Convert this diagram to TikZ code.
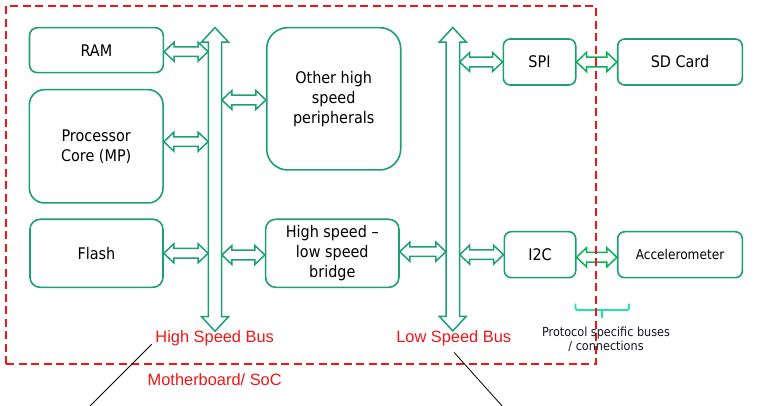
\documentclass[tikz,border=0pt]{standalone}
\usepackage{fontspec}
\setmainfont{DejaVu Sans}[FakeStretch=0.9]
\newfontfamily\redfont{Liberation Sans}
\usetikzlibrary{calc}
\definecolor{boxgreen}{RGB}{28,158,118}
\definecolor{brightgreen}{RGB}{10,176,84}
\definecolor{mint}{RGB}{30,228,165}
\definecolor{socred}{RGB}{240,22,22}
\definecolor{navytext}{RGB}{20,20,35}
\tikzset{
  box/.style={draw=boxgreen, line width=1.6pt, inner sep=0pt, align=center,
    font=\fontsize{16}{20}\selectfont, text=black},
  harr/.style={draw=boxgreen, line width=1.5pt, line join=miter},
  redlabel/.style={text=socred, font=\redfont\fontsize{16.4}{20}\selectfont, inner sep=0pt},
  pointer/.style={draw=black, line width=0.8pt},
}
% #2 left end (x), #3 right end (x), #4 point giving the height
\newcommand\harrow[4][]{%
  \draw[harr,#1] let \p1=(#2), \p2=(#3), \p3=(#4) in
    (\x1,\y3) -- (\x1+10pt,\y3+9.5pt) -- (\x1+10pt,\y3+4.8pt) -- (\x2-10pt,\y3+4.8pt)
    -- (\x2-10pt,\y3+9.5pt) -- (\x2,\y3) -- (\x2-10pt,\y3-9.5pt) -- (\x2-10pt,\y3-4.8pt)
    -- (\x1+10pt,\y3-4.8pt) -- (\x1+10pt,\y3-9.5pt) -- cycle;}
\newcommand\vbus[1]{%
  \draw[harr] let \p1=(#1.north), \p2=(#1.south) in
    (\x1,\y1) -- (\x1+13.5pt,\y1-14.6pt) -- (\x1+6.7pt,\y1-14.6pt) -- (\x1+6.7pt,\y2+14.6pt)
    -- (\x1+13.5pt,\y2+14.6pt) -- (\x1,\y2) -- (\x1-13.5pt,\y2+14.6pt) -- (\x1-6.7pt,\y2+14.6pt)
    -- (\x1-6.7pt,\y1-14.6pt) -- (\x1-13.5pt,\y1-14.6pt) -- cycle;}
\begin{document}
\begin{tikzpicture}[x=1pt,y=-1pt]
\useasboundingbox (0,0) rectangle (766,406);

% boxes
\node[box, minimum width=133.8pt, minimum height=45pt, rounded corners=8pt] (ram) at (96.4,50.2) {RAM};
\node[box, minimum width=133.7pt, minimum height=113.3pt, rounded corners=15pt] (proc) at (96.2,146.3) {Processor\\Core (MP)};
\node[box, minimum width=133pt, minimum height=68pt, rounded corners=10pt] (flash) at (96.5,253.3) {Flash};
\node[box, minimum width=134pt, minimum height=142.3pt, rounded corners=21pt] (oth) at (333.7,98.8) {Other high\\speed\\peripherals};
\node[box, minimum width=133.3pt, minimum height=68pt, rounded corners=10pt] (bridge) at (332.3,253.3) {High speed --\\low speed\\bridge};
\node[box, minimum width=72.4pt, minimum height=46pt, rounded corners=7pt] (spi) at (539.5,62) {SPI};
\node[box, minimum width=124.6pt, minimum height=46pt, rounded corners=7pt] (sd) at (680,62) {SD Card};
\node[box, minimum width=71.4pt, minimum height=46pt, rounded corners=7pt] (i2c) at (540,254.7) {I2C};
\node[box, minimum width=124.6pt, minimum height=46pt, rounded corners=7pt, font=\fontsize{13.5}{16}\selectfont] (acc) at (680,254.7) {Accelerometer};

% buses
\node[inner sep=0pt, minimum width=13.4pt, minimum height=303.3pt] (hsb) at (215,179.4) {};
\node[inner sep=0pt, minimum width=13.4pt, minimum height=303pt] (lsb) at (452.8,179.2) {};
\vbus{hsb}
\vbus{lsb}

% connections
\harrow{ram.east}{hsb.west}{$(ram.east)+(0,1.5)$}
\harrow{proc.east}{hsb.west}{$(proc.east)+(0,-4.6)$}
\harrow{flash.east}{hsb.west}{flash.east}
\harrow{hsb.east}{oth.west}{$(oth.west)+(0,1.2)$}
\harrow{hsb.east}{bridge.west}{$(bridge.west)+(0,1.7)$}
\harrow{bridge.east}{lsb.west}{$(bridge.east)+(0,-1.6)$}
\harrow{lsb.east}{spi.west}{spi.west}
\harrow{lsb.east}{i2c.west}{i2c.west}
\harrow[draw=brightgreen]{spi.east}{sd.west}{spi.east}
\harrow[draw=brightgreen]{i2c.east}{acc.west}{$(i2c.east)+(0,2.6)$}

% brace
\coordinate (brl) at (575.5,303.5);
\coordinate (brr) at (629,303.5);
\coordinate (brm) at (602,310);
\coordinate (brt) at (602,317.5);
\draw[draw=mint, line width=1.8pt, rounded corners=1.5pt] (brl) |- (brm) -| (brr);
\draw[draw=mint, line width=1.8pt] (brm) -- (brt);

% SoC frame
\node[draw=socred, line width=2pt, dash pattern=on 8pt off 4.5pt, inner sep=0pt,
  minimum width=589.7pt, minimum height=358pt] (soc) at (300.85,185) {};

% labels
\node[redlabel] (hsblabel) at (214.7,338) {High Speed Bus};
\node[redlabel] (lsblabel) at (453.7,338) {Low Speed Bus};
\node[redlabel] (soclabel) at (214.7,380) {Motherboard/ SoC};
\node[text=navytext, align=center, inner sep=0pt, font=\fontsize{12.5}{14}\selectfont] (proto) at (606,339.7) {Protocol specific buses\\/ connections};

% pointer lines
\coordinate (p1a) at (151.7,344.3);
\coordinate (p1b) at (89,407);
\coordinate (p2a) at (454,352.3);
\coordinate (p2b) at (503,407);
\draw[pointer] (p1a) -- (p1b);
\draw[pointer] (p2a) -- (p2b);
\end{tikzpicture}
\end{document}
